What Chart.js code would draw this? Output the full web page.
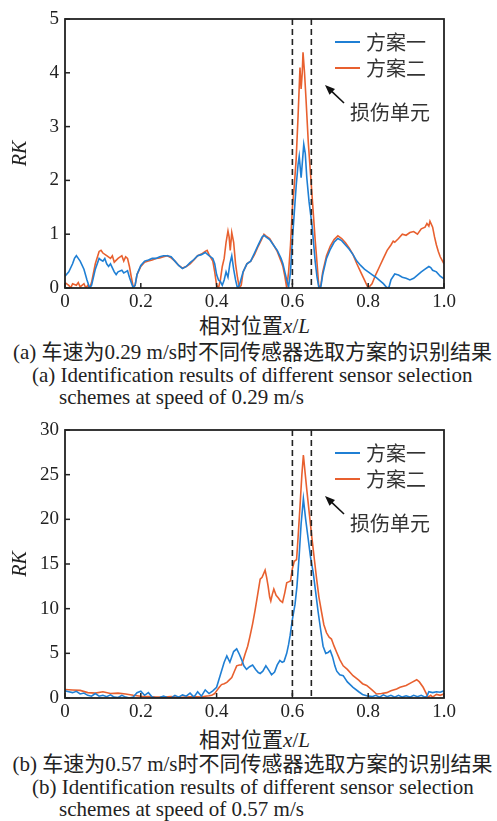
<!DOCTYPE html>
<html>
<head>
<meta charset="utf-8">
<script src="https://cdn.jsdelivr.net/npm/chart.js@4.4.1/dist/chart.umd.min.js"></script>
<style>
body { margin: 0; width: 497px; height: 821px; background: #fff; position: relative; overflow: hidden;
       font-family: "Liberation Serif", "Noto Sans CJK SC", serif; color: #222; }
.plot { position: absolute; left: 0; width: 497px; height: 312px; }
.xt { position: absolute; left: 65px; width: 379px; text-align: center; font-size: 21px; line-height: 24px; }
.cap { position: absolute; left: 0; width: 505px; text-align: center; font-size: 21px; line-height: 24px; white-space: nowrap; }
.en { position: absolute; left: 32px; font-size: 21px; line-height: 22px; white-space: nowrap; }
.en span { display: block; padding-left: 27px; }
</style>
</head>
<body>
<div class="plot" style="top:0"><canvas id="chartA"></canvas></div>
<div class="xt" style="top:314px">相对位置<i>x</i>/<i>L</i></div>
<div class="cap" style="top:340px">(a) 车速为0.29 m/s时不同传感器选取方案的识别结果</div>
<div class="en" style="top:364px">(a) Identification results of different sensor selection<span>schemes at speed of 0.29 m/s</span></div>

<div class="plot" style="top:412px"><canvas id="chartB"></canvas></div>
<div class="xt" style="top:728px">相对位置<i>x</i>/<i>L</i></div>
<div class="cap" style="top:752px">(b) 车速为0.57 m/s时不同传感器选取方案的识别结果</div>
<div class="en" style="top:776px">(b) Identification results of different sensor selection<span>schemes at speed of 0.57 m/s</span></div>

<script>
// RK along the beam, [x/L, RK]
const scheme1Slow = [[0,0.22],[0.01,0.3],[0.02,0.45],[0.025,0.55],[0.03,0.6],[0.035,0.55],[0.04,0.5],[0.05,0.35],[0.058,0.15],[0.065,0],[0.07,0.05],[0.08,0.35],[0.09,0.55],[0.095,0.52],[0.1,0.5],[0.105,0.55],[0.11,0.45],[0.115,0.4],[0.12,0.45],[0.13,0.3],[0.135,0.25],[0.14,0.3],[0.15,0.33],[0.155,0.28],[0.16,0.3],[0.165,0.32],[0.17,0.2],[0.175,0.1],[0.18,0],[0.185,0.05],[0.19,0.25],[0.2,0.42],[0.21,0.5],[0.22,0.52],[0.23,0.55],[0.24,0.55],[0.25,0.58],[0.26,0.6],[0.27,0.6],[0.28,0.58],[0.29,0.5],[0.3,0.42],[0.31,0.36],[0.32,0.4],[0.33,0.47],[0.34,0.53],[0.35,0.6],[0.36,0.62],[0.37,0.66],[0.38,0.6],[0.39,0.55],[0.395,0.45],[0.4,0.25],[0.405,0.15],[0.41,0.12],[0.415,0.05],[0.42,0.15],[0.425,0.3],[0.43,0.2],[0.435,0.45],[0.44,0.6],[0.445,0.35],[0.45,0.15],[0.455,0],[0.46,0.05],[0.47,0.3],[0.48,0.45],[0.49,0.5],[0.5,0.65],[0.51,0.8],[0.52,0.95],[0.525,0.98],[0.53,0.95],[0.54,0.9],[0.55,0.8],[0.56,0.7],[0.57,0.55],[0.575,0.45],[0.58,0.3],[0.585,0.15],[0.59,0.02],[0.595,0.3],[0.6,0.9],[0.605,1.4],[0.61,1.9],[0.615,2.3],[0.618,2.45],[0.623,2.05],[0.627,2.4],[0.63,2.67],[0.634,2.5],[0.638,2.05],[0.644,1.6],[0.652,1.15],[0.66,0.5],[0.665,0.2],[0.67,0],[0.675,0.02],[0.68,0.25],[0.69,0.55],[0.7,0.72],[0.71,0.85],[0.72,0.92],[0.73,0.88],[0.74,0.8],[0.75,0.72],[0.76,0.62],[0.77,0.5],[0.78,0.42],[0.79,0.35],[0.8,0.3],[0.81,0.25],[0.82,0.2],[0.83,0.14],[0.84,0.08],[0.85,0],[0.855,0.02],[0.86,0.15],[0.87,0.26],[0.88,0.24],[0.89,0.2],[0.9,0.18],[0.91,0.15],[0.92,0.18],[0.93,0.24],[0.94,0.3],[0.95,0.35],[0.96,0.4],[0.965,0.38],[0.97,0.33],[0.98,0.3],[0.99,0.22],[1,0.17]];
const scheme2Slow = [[0,0.1],[0.01,0.05],[0.015,0],[0.02,0.08],[0.03,0.05],[0.035,0.1],[0.04,0.02],[0.05,0.08],[0.055,0],[0.06,0.05],[0.065,0],[0.07,0.1],[0.08,0.45],[0.09,0.68],[0.095,0.7],[0.1,0.65],[0.11,0.6],[0.12,0.55],[0.125,0.6],[0.13,0.48],[0.14,0.55],[0.15,0.6],[0.155,0.5],[0.16,0.58],[0.165,0.55],[0.17,0.4],[0.175,0.2],[0.18,0.02],[0.185,0.05],[0.19,0.25],[0.2,0.4],[0.21,0.48],[0.22,0.5],[0.23,0.52],[0.24,0.55],[0.25,0.56],[0.26,0.58],[0.27,0.6],[0.28,0.56],[0.29,0.5],[0.3,0.42],[0.31,0.37],[0.32,0.4],[0.33,0.45],[0.34,0.52],[0.35,0.6],[0.36,0.63],[0.37,0.68],[0.375,0.7],[0.38,0.62],[0.39,0.5],[0.395,0.3],[0.4,0.05],[0.405,0],[0.41,0.15],[0.415,0.4],[0.42,0.55],[0.425,0.85],[0.43,1.06],[0.433,0.95],[0.436,0.7],[0.44,1.03],[0.445,0.85],[0.45,0.45],[0.455,0.2],[0.46,0],[0.465,0.05],[0.47,0.3],[0.48,0.45],[0.49,0.5],[0.5,0.62],[0.51,0.78],[0.52,0.92],[0.525,1],[0.53,0.97],[0.54,0.92],[0.55,0.8],[0.56,0.68],[0.57,0.5],[0.575,0.4],[0.58,0.22],[0.585,0],[0.59,0.3],[0.595,0.8],[0.6,1.5],[0.605,1.9],[0.61,2.4],[0.615,3.2],[0.62,4.1],[0.623,3.7],[0.626,4],[0.628,4.38],[0.632,4],[0.636,3.5],[0.642,2.7],[0.648,2.1],[0.655,1.4],[0.66,0.9],[0.664,0.55],[0.67,0],[0.675,0.05],[0.68,0.3],[0.69,0.6],[0.7,0.78],[0.71,0.9],[0.72,0.97],[0.73,0.92],[0.74,0.84],[0.75,0.74],[0.76,0.62],[0.77,0.45],[0.78,0.3],[0.79,0.15],[0.8,0],[0.81,0.08],[0.82,0.25],[0.83,0.4],[0.84,0.55],[0.85,0.7],[0.86,0.8],[0.866,0.87],[0.87,0.85],[0.88,0.92],[0.89,1],[0.9,0.98],[0.91,1.03],[0.92,1.05],[0.93,1],[0.94,1.1],[0.95,1.13],[0.955,1.2],[0.96,1.15],[0.963,1.24],[0.97,1.13],[0.975,0.95],[0.98,0.8],[0.985,0.68],[0.99,0.58],[1,0.45]];
const scheme1Fast = [[0,0.8],[0.01,0.7],[0.02,0.6],[0.03,0.75],[0.04,0.45],[0.05,0.55],[0.06,0.3],[0.07,0.2],[0.08,0.5],[0.09,0.2],[0.1,0.3],[0.11,0.15],[0.12,0.35],[0.13,0.1],[0.14,0.05],[0.15,0.3],[0.16,0.1],[0.17,0],[0.18,0.1],[0.19,0.6],[0.2,0.75],[0.21,0.3],[0.22,0.6],[0.23,0.1],[0.24,0],[0.25,0.05],[0.26,0.2],[0.27,0.05],[0.28,0],[0.29,0.3],[0.3,0.1],[0.31,0.35],[0.32,0.2],[0.33,0.55],[0.34,0.1],[0.35,0.7],[0.36,0.2],[0.37,0.9],[0.38,0.5],[0.39,0.8],[0.4,1.2],[0.41,2.6],[0.42,4],[0.427,4.7],[0.435,4],[0.445,5.2],[0.453,5.5],[0.46,4.9],[0.466,4.3],[0.472,3.6],[0.479,3.2],[0.487,3.5],[0.495,3.7],[0.503,3.2],[0.51,2.85],[0.515,2.75],[0.522,3],[0.53,3.6],[0.538,3.1],[0.545,2.6],[0.553,2.9],[0.56,3.7],[0.567,4.2],[0.573,4],[0.578,4.1],[0.585,5],[0.59,6],[0.594,7],[0.6,8.8],[0.607,10.5],[0.612,12.5],[0.618,16],[0.623,19.5],[0.629,22.3],[0.635,20],[0.642,17.7],[0.648,15.7],[0.655,14],[0.661,12],[0.668,9.6],[0.675,7.5],[0.681,5.8],[0.688,5],[0.694,5.1],[0.7,5.3],[0.706,4.6],[0.712,3.6],[0.717,3],[0.725,2.6],[0.734,2.5],[0.745,1.8],[0.76,1.2],[0.775,0.7],[0.785,0.4],[0.796,0.26],[0.81,0.15],[0.82,0.3],[0.83,0.1],[0.84,0.35],[0.85,0.15],[0.86,0.3],[0.87,0.1],[0.88,0.3],[0.89,0.1],[0.9,0.25],[0.91,0.1],[0.92,0.3],[0.93,0.15],[0.94,0.3],[0.95,0.1],[0.955,0.2],[0.96,0.7],[0.97,0.6],[0.98,0.7],[0.99,0.65],[1,0.8]];
const scheme2Fast = [[0,0.95],[0.02,0.9],[0.04,0.85],[0.06,0.6],[0.08,0.55],[0.1,0.7],[0.12,0.5],[0.14,0.55],[0.16,0.45],[0.18,0.3],[0.2,0.2],[0.22,0.15],[0.24,0.1],[0.26,0.1],[0.28,0.15],[0.3,0.05],[0.32,0.1],[0.34,0.15],[0.36,0.1],[0.37,0.2],[0.38,0.25],[0.387,0.3],[0.395,0.5],[0.4,0.8],[0.407,1.2],[0.413,1.5],[0.42,1.6],[0.427,1.75],[0.433,2],[0.44,2.3],[0.447,3],[0.453,3.6],[0.46,3.7],[0.466,3.7],[0.47,4.2],[0.475,4.9],[0.482,5.8],[0.488,6.9],[0.495,8.3],[0.501,9.7],[0.508,11.5],[0.515,13.3],[0.52,13.5],[0.528,14.3],[0.532,13.5],[0.536,12.5],[0.54,11.3],[0.543,10.85],[0.547,11.6],[0.551,12.2],[0.557,11.5],[0.563,11.2],[0.568,10.9],[0.574,10.7],[0.58,11.8],[0.585,12.9],[0.59,13],[0.595,13.1],[0.6,14.5],[0.605,15.3],[0.611,15.5],[0.615,18],[0.62,21.4],[0.625,25],[0.629,27.2],[0.634,25],[0.638,23.3],[0.645,20.5],[0.651,18.1],[0.658,15.5],[0.664,13.3],[0.67,11.3],[0.677,9.6],[0.683,8.2],[0.69,7.3],[0.697,6.8],[0.703,6.6],[0.71,5.8],[0.717,5.1],[0.725,4.3],[0.734,3.6],[0.745,3.2],[0.76,2.5],[0.775,2],[0.785,1.6],[0.796,1.4],[0.81,0.9],[0.822,0.45],[0.835,0.5],[0.849,0.6],[0.86,0.8],[0.875,1],[0.884,1.2],[0.9,1.4],[0.915,1.75],[0.928,2.05],[0.935,1.8],[0.945,1.2],[0.952,0.6],[0.958,0.1],[0.965,0.3],[0.97,0.1],[0.98,0.4],[0.99,0.3],[1,0.45]];

const schemeNames = ['方案一', '方案二'];
const schemeColors = ['#1f7fd4', '#e8602f'];
const damageBounds = [0.6, 0.65];   // damaged element, x/L
const damageLabel = '损伤单元';
const xTickValues = [0, 0.2, 0.4, 0.6, 0.8, 1.0];
const xTickLabels = ['0', '0.2', '0.4', '0.6', '0.8', '1.0'];

const serif = '"Liberation Serif", "Times New Roman", serif';
const cjk = '"Noto Sans CJK SC", sans-serif';

// frame, inward ticks, damage lines, legend and arrow
const decor = {
    id: 'decor',
    afterDatasetsDraw(chart) {
        const ctx = chart.ctx;
        const a = chart.chartArea;
        const x = chart.scales.x, y = chart.scales.y;
        ctx.save();
        ctx.strokeStyle = '#222';
        ctx.lineWidth = 1.6;
        ctx.setLineDash([6, 4]);
        damageBounds.forEach(v => {
            const px = x.getPixelForValue(v);
            ctx.beginPath(); ctx.moveTo(px, a.top); ctx.lineTo(px, a.bottom); ctx.stroke();
        });
        ctx.setLineDash([]);
        ctx.lineWidth = 1.8;
        ctx.strokeRect(a.left, a.top, a.right - a.left, a.bottom - a.top);
        ctx.lineWidth = 1.5;
        x.ticks.forEach(t => {
            const px = x.getPixelForValue(t.value);
            ctx.beginPath(); ctx.moveTo(px, a.bottom); ctx.lineTo(px, a.bottom - 5); ctx.stroke();
        });
        y.ticks.forEach(t => {
            const py = y.getPixelForValue(t.value);
            ctx.beginPath(); ctx.moveTo(a.left, py); ctx.lineTo(a.left + 5, py); ctx.stroke();
        });

        ctx.font = '20px ' + cjk;
        ctx.textBaseline = 'middle';
        chart.data.datasets.forEach((ds, i) => {
            const ly = a.top + 23 + i * 26;
            ctx.strokeStyle = ds.borderColor;
            ctx.lineWidth = 2;
            ctx.beginPath(); ctx.moveTo(a.right - 109, ly); ctx.lineTo(a.right - 84, ly); ctx.stroke();
            ctx.fillStyle = '#333';
            ctx.fillText(ds.label, a.right - 78, ly);
        });

        // arrow pointing at the damaged element
        const tx = a.right - 119, ty = a.top + 66;
        const sx = a.right - 100, sy = a.top + 84;
        const ang = Math.atan2(ty - sy, tx - sx);
        ctx.strokeStyle = '#111';
        ctx.fillStyle = '#111';
        ctx.lineWidth = 1.6;
        ctx.beginPath(); ctx.moveTo(sx, sy); ctx.lineTo(tx - 6 * Math.cos(ang), ty - 6 * Math.sin(ang)); ctx.stroke();
        ctx.beginPath();
        ctx.moveTo(tx, ty);
        ctx.lineTo(tx - 10 * Math.cos(ang) + 4 * Math.sin(ang), ty - 10 * Math.sin(ang) - 4 * Math.cos(ang));
        ctx.lineTo(tx - 10 * Math.cos(ang) - 4 * Math.sin(ang), ty - 10 * Math.sin(ang) + 4 * Math.cos(ang));
        ctx.closePath(); ctx.fill();
        ctx.fillStyle = '#333';
        ctx.fillText(damageLabel, a.right - 94, a.top + 93);
        ctx.restore();
    }
};

const makeChart = (canvasId, series1, series2, yMax, yStep, padTop, xHeight) => {
    const el = document.getElementById(canvasId);
    return new Chart(el.getContext('2d'), {
        type: 'line',
        data: {
            datasets: [series1, series2].map((s, i) => ({
                label: schemeNames[i],
                data: s.map(p => ({x: p[0], y: p[1]})),
                borderColor: schemeColors[i],
                borderWidth: 1.6,
                pointRadius: 0,
                tension: 0,
                fill: false
            })).reverse()
        },
        options: {
            responsive: true,
            maintainAspectRatio: false,
            animation: false,
            layout: { padding: { top: padTop, right: 53, left: 0, bottom: 0 } },
            plugins: {
                legend: { display: false },
                tooltip: { enabled: false }
            },
            scales: {
                x: {
                    type: 'linear', min: 0, max: 1,
                    afterBuildTicks: s => { s.ticks = xTickValues.map(v => ({value: v})); },
                    afterFit: s => { s.height = xHeight; },
                    grid: { display: false, drawTicks: false },
                    border: { display: false },
                    ticks: {
                        padding: 3, color: '#222',
                        font: { family: serif, size: 19 },
                        callback: (v, i) => xTickLabels[i]
                    }
                },
                y: {
                    min: 0, max: yMax,
                    afterFit: s => { s.width = 65; },
                    grid: { display: false, drawTicks: false },
                    border: { display: false },
                    ticks: { stepSize: yStep, padding: 6, color: '#222', font: { family: serif, size: 19 } },
                    title: { display: true, text: 'RK', color: '#222', padding: { top: 9, bottom: 0 },
                             font: { family: serif, size: 20, style: 'italic' } }
                }
            }
        },
        plugins: [decor]
    });
};

// legend order follows schemeNames, so put it back after reverse()
const fixOrder = c => { c.data.datasets.reverse(); c.update(); };
fixOrder(makeChart('chartA', scheme1Slow, scheme2Slow, 5, 1, 19, 24));
fixOrder(makeChart('chartB', scheme1Fast, scheme2Fast, 30, 5, 18, 26));
</script>
</body>
</html>
